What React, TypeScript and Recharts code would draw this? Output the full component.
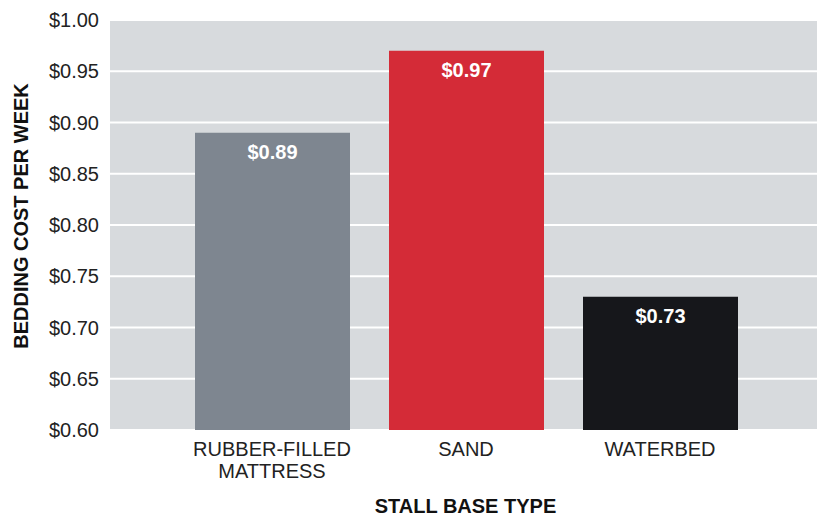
import React from "react";
import {
  BarChart,
  Bar,
  Cell,
  XAxis,
  YAxis,
  CartesianGrid,
  LabelList
} from "recharts";

const stallTypes = ["RUBBER-FILLED\nMATTRESS", "SAND", "WATERBED"];
const weeklyCost = [0.89, 0.97, 0.73];
const barColors = ["#7e8690", "#d42b37", "#16171b"];
const costTicks = [0.6, 0.65, 0.7, 0.75, 0.8, 0.85, 0.9, 0.95, 1.0];

const data = stallTypes.map((name, i) => ({ name, cost: weeklyCost[i] }));

const FONT = "'Liberation Sans', Arial, Helvetica, sans-serif";
const money = (v: number) => `$${v.toFixed(2)}`;

// two-line category labels, split on "\n"
const StallTick = (props: any) => {
  const { x, y, payload } = props;
  const lines = String(payload.value).split("\n");
  return (
    <text
      x={x}
      y={y}
      textAnchor="middle"
      fill="#222"
      fontSize={20}
      fontFamily={FONT}
    >
      {lines.map((line, i) => (
        <tspan key={i} x={x} dy={i === 0 ? 18 : 22}>
          {line}
        </tspan>
      ))}
    </text>
  );
};

const App: React.FC = () => {
  return (
    <div style={{ position: "absolute", left: 0, top: 0, background: "#fff" }}>
      <BarChart
        width={817}
        height={516}
        data={data}
        margin={{ top: 20, right: 0, bottom: 0, left: 0 }}
        barSize={155}
      >
        <CartesianGrid
          vertical={false}
          fill="#d7dadd"
          stroke="#ffffff"
          strokeWidth={2}
        />
        <XAxis
          dataKey="name"
          height={86}
          axisLine={false}
          tickLine={false}
          padding={{ left: 65, right: 60 }}
          tick={<StallTick />}
          interval={0}
          label={{
            value: "STALL BASE TYPE",
            position: "insideBottom",
            offset: 3,
            dx: 2,
            fill: "#111",
            fontSize: 20,
            fontWeight: 700,
            fontFamily: FONT
          }}
        />
        <YAxis
          width={110}
          domain={[0.6, 1.0]}
          ticks={costTicks}
          allowDataOverflow
          axisLine={false}
          tickLine={false}
          tickMargin={5}
          tickFormatter={money}
          tick={{ fill: "#222", fontSize: 20, fontFamily: FONT }}
          label={{
            value: "BEDDING COST PER WEEK",
            angle: -90,
            position: "insideLeft",
            offset: 21,
            dy: -9,
            style: { textAnchor: "middle" },
            fill: "#111",
            fontSize: 20,
            fontWeight: 700,
            fontFamily: FONT
          }}
        />
        <Bar dataKey="cost" isAnimationActive={false}>
          {data.map((d, i) => (
            <Cell key={d.name} fill={barColors[i]} />
          ))}
          <LabelList
            dataKey="cost"
            position="insideTop"
            offset={12}
            formatter={(v: any) => money(Number(v))}
            fill="#ffffff"
            fontSize={20}
            fontWeight={700}
            fontFamily={FONT}
          />
        </Bar>
      </BarChart>
    </div>
  );
};

export default App;
